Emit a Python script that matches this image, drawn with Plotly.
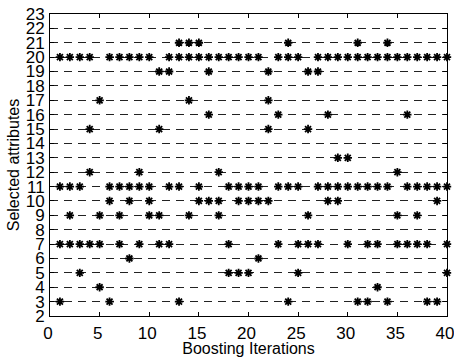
import plotly.graph_objects as go

# Boosting iteration index
iterations = list(range(1, 41))

# Four attributes chosen at each boosting iteration (highest index first)
attr_a = [20, 20, 20, 20, 17, 20, 20, 20, 20, 20, 19, 20, 21, 21, 21, 20, 20, 20, 20, 20,
          20, 19, 20, 21, 20, 19, 20, 20, 20, 20, 21, 20, 20, 21, 20, 20, 20, 20, 20, 20]
attr_b = [11, 11, 11, 15, 9, 11, 11, 11, 12, 11, 15, 19, 20, 20, 20, 19, 12, 11, 11, 11,
          11, 17, 16, 20, 11, 15, 19, 16, 13, 13, 20, 11, 11, 20, 12, 16, 11, 11, 11, 11]
attr_c = [7, 9, 7, 12, 7, 10, 9, 10, 11, 10, 9, 11, 11, 17, 11, 16, 10, 7, 10, 10,
          10, 15, 11, 11, 7, 9, 11, 11, 11, 11, 11, 7, 7, 11, 9, 11, 9, 7, 10, 7]
attr_d = [3, 7, 5, 7, 4, 3, 7, 6, 7, 9, 7, 7, 3, 9, 10, 10, 9, 5, 5, 5,
          6, 10, 7, 3, 5, 7, 7, 10, 10, 7, 3, 3, 4, 3, 7, 7, 7, 3, 3, 5]

x_ticks = [0, 5, 10, 15, 20, 25, 30, 35, 40]
y_ticks = list(range(2, 24))

xs = iterations * 4
ys = attr_a + attr_b + attr_c + attr_d

fig = go.Figure()
fig.add_trace(go.Scatter(
    x=xs, y=ys, mode="markers",
    marker=dict(symbol="asterisk-open", size=7, color="black",
                line=dict(color="black", width=1.8)),
    cliponaxis=False, showlegend=False,
))

font_family = "Liberation Sans, Arial, sans-serif"
axis_common = dict(
    showline=True, linecolor="black", linewidth=1, mirror="ticks",
    ticks="inside", ticklen=4, tickcolor="black",
    zeroline=False, automargin=False,
    tickfont=dict(family=font_family, size=17, color="black"),
)

fig.update_xaxes(
    range=[0, 40], tickvals=x_ticks, showgrid=False,
    title=dict(text="Boosting Iterations", standoff=0,
               font=dict(family=font_family, size=16, color="black")),
    ticklabelstandoff=2, ticklabeloverflow="allow", ticklabelshift=-2,
    **axis_common,
)
fig.update_yaxes(
    range=[2, 23], tickvals=y_ticks,
    showgrid=True, gridcolor="#222222", gridwidth=1, griddash="8px,6px",
    title=dict(text="Selected attributes", standoff=2,
               font=dict(family=font_family, size=16, color="black")),
    ticklabelstandoff=1,
    **axis_common,
)

fig.update_layout(
    width=454, height=357,
    margin=dict(l=50, r=7, t=14, b=41, autoexpand=False),
    paper_bgcolor="white", plot_bgcolor="white",
    font=dict(family=font_family, color="black"),
)

fig.write_html("out.html")
